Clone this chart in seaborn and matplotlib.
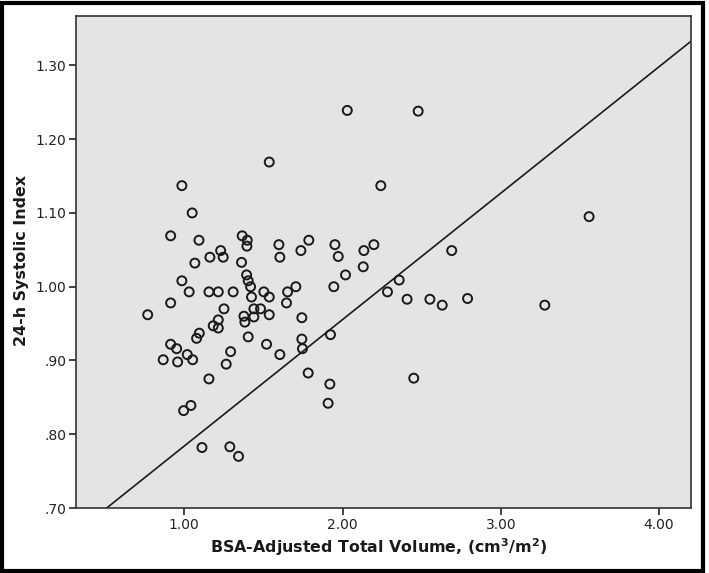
import matplotlib
matplotlib.use("Agg")
import matplotlib.pyplot as plt
import seaborn as sns
import pandas as pd
import numpy as np
from matplotlib.patches import Rectangle

# ---- data ----
bsa_volume = [
    2.03, 2.478, 1.537, 0.985, 2.242, 1.05, 3.558, 0.914, 1.093, 1.366, 1.398, 1.396,
    1.23, 1.246, 1.162, 1.067, 1.362, 1.598, 1.604, 1.737, 1.787, 1.952, 1.973, 2.019,
    1.945, 1.705, 1.394, 1.404, 1.419, 0.985, 2.198, 2.135, 2.131, 2.69, 2.358, 2.284,
    2.408, 2.552, 2.63, 2.79, 3.278, 2.45, 1.031, 1.156, 1.215, 1.309, 1.503, 1.537,
    1.425, 1.653, 1.646, 0.914, 0.769, 1.251, 1.377, 1.383, 1.44, 1.482, 1.44, 1.537,
    1.743, 1.215, 1.183, 1.215, 1.095, 1.078, 1.404, 1.743, 1.924, 0.914, 0.952, 1.52,
    1.747, 1.293, 1.019, 1.604, 0.867, 0.958, 1.053, 1.265, 1.783, 1.156, 1.92, 1.909,
    1.042, 0.996, 1.112, 1.288, 1.343,
]
systolic_index = [
    1.239, 1.238, 1.169, 1.137, 1.137, 1.100, 1.095, 1.069, 1.063, 1.069, 1.063, 1.055,
    1.049, 1.040, 1.040, 1.032, 1.033, 1.057, 1.040, 1.049, 1.063, 1.057, 1.041, 1.016,
    1.000, 1.000, 1.016, 1.008, 1.000, 1.008, 1.057, 1.049, 1.027, 1.049, 1.009, 0.993,
    0.983, 0.983, 0.975, 0.984, 0.975, 0.876, 0.993, 0.993, 0.993, 0.993, 0.993, 0.986,
    0.986, 0.993, 0.978, 0.978, 0.962, 0.970, 0.960, 0.952, 0.970, 0.970, 0.959, 0.962,
    0.958, 0.955, 0.947, 0.944, 0.937, 0.930, 0.932, 0.929, 0.935, 0.922, 0.916, 0.922,
    0.916, 0.912, 0.908, 0.908, 0.901, 0.898, 0.901, 0.895, 0.883, 0.875, 0.868, 0.842,
    0.839, 0.832, 0.782, 0.783, 0.770,
]
fit_intercept = 0.6126
fit_slope = 0.1714

x_ticks = [1.0, 2.0, 3.0, 4.0]
x_tick_labels = ["1.00", "2.00", "3.00", "4.00"]
y_ticks = [0.70, 0.80, 0.90, 1.00, 1.10, 1.20, 1.30]
y_tick_labels = [".70", ".80", ".90", "1.00", "1.10", "1.20", "1.30"]

df = pd.DataFrame({"vol": bsa_volume, "idx": systolic_index})

sns.set_theme(style="white")
plt.rcParams["font.family"] = ["DejaVu Sans"]

fig = plt.figure(figsize=(7.09, 5.73), dpi=100)
ax_w = (690.7 - 76) / 709
ax_h = (508 - 16) / 573
ax = fig.add_axes([76 / 709, 1 - 508 / 573, ax_w, ax_h])
ax.set_facecolor("#e4e4e4")

xlim = (0.316, 4.20)
ylim = (0.70, 1.367)

xs = np.array(xlim)
ax.plot(xs, fit_intercept + fit_slope * xs, color="#1a1a1a", lw=1.2, zorder=2)

sns.scatterplot(data=df, x="vol", y="idx", ax=ax, marker="o", s=42,
                facecolor="none", edgecolor="#1a1a1a", linewidth=1.4, zorder=3)

ax.set_xlim(*xlim)
ax.set_ylim(*ylim)
ax.set_xticks(x_ticks)
ax.set_xticklabels(x_tick_labels)
ax.set_yticks(y_ticks)
ax.set_yticklabels(y_tick_labels)
ax.tick_params(axis="both", direction="out", length=5, width=1.2, color="#222222",
               labelsize=10, labelcolor="#222222", pad=2, bottom=True, left=True)

for sp in ax.spines.values():
    sp.set_color("#333333")
    sp.set_linewidth(1.2)

ax.set_xlabel("BSA-Adjusted Total Volume, (cm$^{\\mathbf{3}}$/m$^{\\mathbf{2}}$)",
              fontsize=11.4, fontweight="bold", color="#1a1a1a")
ax.set_ylabel("24-h Systolic Index", fontsize=11.4, fontweight="bold",
              color="#1a1a1a")
ax.xaxis.set_label_coords(((379 - 76) / 709) / ax_w, (508 - 547) / 573 / ax_h)
ax.yaxis.set_label_coords((22 - 76) / 709 / ax_w, (508 - 261) / 573 / ax_h)
ax.xaxis.label.set_verticalalignment("center")
ax.yaxis.label.set_verticalalignment("center")

fig.patches.append(Rectangle((2 / 709, 2 / 573), 701 / 709, 568 / 573,
                             transform=fig.transFigure, fill=False,
                             edgecolor="black", linewidth=3))

fig.savefig("out.png", dpi=100, facecolor="white")
